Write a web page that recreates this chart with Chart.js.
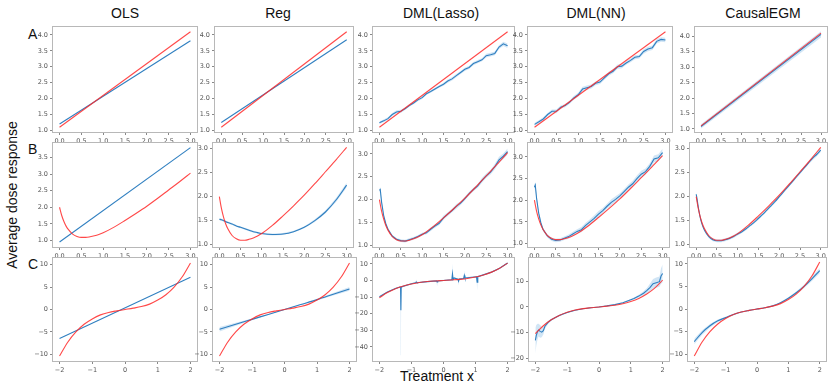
<!DOCTYPE html>
<html><head><meta charset="utf-8">
<script src="https://cdn.jsdelivr.net/npm/chart.js@4.4.1/dist/chart.umd.min.js"></script>
<style>
body{margin:0;background:#fff;width:830px;height:387px;position:relative;overflow:hidden;font-family:"Liberation Sans",Arial,sans-serif}
canvas{position:absolute}
.t{position:absolute;font-size:14px;line-height:1;color:#111;white-space:nowrap}
</style></head><body>
<div class="t" style="left:125px;top:6px;transform:translateX(-50%)">OLS</div>
<div class="t" style="left:278px;top:6px;transform:translateX(-50%)">Reg</div>
<div class="t" style="left:441px;top:6px;transform:translateX(-50%)">DML(Lasso)</div>
<div class="t" style="left:596px;top:6px;transform:translateX(-50%)">DML(NN)</div>
<div class="t" style="left:763px;top:6px;transform:translateX(-50%)">CausalEGM</div>
<div class="t" style="left:28px;top:27px">A</div>
<div class="t" style="left:28px;top:142px">B</div>
<div class="t" style="left:28px;top:257px">C</div>
<div class="t" style="left:437px;top:369px;transform:translateX(-50%)">Treatment x</div>
<div class="t" style="left:12px;top:195px;transform:translate(-50%,-50%) rotate(-90deg)">Average dose response</div>
<script>
// ---- row A: linear truth ----
const xLin = [0, 3];
const redA = [1.1, 4.1];
const olsA = [1.2, 3.82];
const regA = [1.25, 3.85];
const egmA = [1.08, 4.06];
const egmAsd = [0.07, 0.1];
const xStep = [0,0.1,0.2,0.3,0.4,0.5,0.6,0.7,0.8,0.9,1.0,1.1,1.2,1.3,1.4,1.5,1.6,1.7,1.8,1.9,2.0,2.1,2.2,2.3,2.4,2.5,2.6,2.7,2.8,2.9,3.0];
const lassoA = [1.24,1.3,1.37,1.5,1.58,1.6,1.68,1.78,1.86,1.96,2.03,2.15,2.22,2.3,2.38,2.45,2.55,2.62,2.72,2.82,2.92,2.98,3.1,3.16,3.22,3.35,3.38,3.42,3.62,3.72,3.66];
const lassoAsd = [0.04,0.04,0.04,0.05,0.05,0.05,0.04,0.04,0.04,0.04,0.04,0.04,0.04,0.04,0.04,0.05,0.05,0.05,0.05,0.05,0.05,0.05,0.05,0.05,0.05,0.06,0.06,0.06,0.06,0.07,0.07];
const nnA = [1.19,1.27,1.36,1.5,1.6,1.6,1.73,1.78,1.88,2.02,2.12,2.3,2.34,2.38,2.48,2.52,2.65,2.78,2.86,3.0,3.02,3.12,3.2,3.3,3.32,3.48,3.56,3.6,3.8,3.86,3.84];
const nnAsd = [0.05,0.05,0.05,0.05,0.06,0.06,0.05,0.05,0.05,0.06,0.06,0.07,0.07,0.06,0.06,0.06,0.06,0.06,0.06,0.07,0.07,0.06,0.06,0.06,0.06,0.07,0.07,0.07,0.07,0.07,0.07];

// ---- row B: U-shaped truth ----
const xB = [0,0.05,0.1,0.15,0.2,0.3,0.4,0.5,0.6,0.7,0.8,0.9,1.0,1.25,1.5,1.75,2.0,2.25,2.5,2.75,3.0];
const redB = [2.0,1.75,1.57,1.43,1.33,1.19,1.12,1.09,1.09,1.11,1.14,1.18,1.23,1.4,1.6,1.81,2.03,2.27,2.52,2.77,3.03];
const olsB = [0.95, 3.8];
const regB = [1.53,1.52,1.5,1.48,1.46,1.43,1.39,1.36,1.33,1.3,1.27,1.25,1.23,1.21,1.22,1.27,1.36,1.5,1.68,1.93,2.24];
const regBsd = [0.02,0.02,0.02,0.02,0.02,0.02,0.02,0.02,0.02,0.02,0.02,0.02,0.02,0.02,0.02,0.02,0.02,0.03,0.03,0.04,0.05];
const xB2 = [0,0.02,0.05,0.1,0.15,0.2,0.3,0.4,0.5,0.6,0.7,0.8,0.9,1.0,1.1,1.2,1.3,1.4,1.5,1.6,1.7,1.8,1.9,2.0,2.1,2.2,2.3,2.4,2.5,2.6,2.7,2.8,2.9,3.0];
const lassoB = [2.2,2.22,1.95,1.65,1.47,1.35,1.2,1.13,1.1,1.09,1.12,1.15,1.19,1.24,1.27,1.35,1.42,1.48,1.6,1.68,1.76,1.85,1.92,2.02,2.13,2.22,2.3,2.42,2.52,2.6,2.72,2.87,2.95,3.05];
const lassoBsd = [0.05,0.05,0.04,0.03,0.03,0.03,0.03,0.03,0.03,0.03,0.03,0.03,0.03,0.03,0.03,0.04,0.04,0.04,0.05,0.04,0.04,0.05,0.04,0.04,0.04,0.04,0.04,0.05,0.05,0.05,0.06,0.07,0.06,0.07];
const nnB = [2.3,2.35,2.05,1.7,1.48,1.33,1.18,1.1,1.07,1.08,1.12,1.16,1.22,1.28,1.32,1.42,1.5,1.58,1.68,1.76,1.86,1.95,2.02,2.1,2.2,2.3,2.38,2.5,2.6,2.66,2.78,2.95,2.98,3.1];
const nnBsd = [0.07,0.07,0.06,0.05,0.05,0.04,0.04,0.04,0.04,0.04,0.04,0.05,0.05,0.05,0.06,0.06,0.06,0.07,0.07,0.06,0.06,0.07,0.07,0.06,0.06,0.06,0.07,0.07,0.08,0.07,0.07,0.08,0.08,0.09];
const egmB = [2.05,1.95,1.78,1.55,1.4,1.3,1.17,1.1,1.08,1.08,1.1,1.13,1.17,1.22,1.27,1.33,1.4,1.47,1.55,1.63,1.72,1.81,1.9,2.0,2.1,2.2,2.3,2.4,2.5,2.6,2.7,2.8,2.88,2.97];
const egmBsd = [0.04,0.04,0.03,0.03,0.03,0.03,0.03,0.03,0.03,0.03,0.03,0.03,0.03,0.03,0.03,0.03,0.03,0.03,0.03,0.03,0.03,0.03,0.03,0.03,0.03,0.03,0.03,0.03,0.03,0.03,0.03,0.04,0.04,0.04];

// ---- row C: cubic truth ----
const xC = [-2,-1.75,-1.5,-1.25,-1,-0.75,-0.5,-0.25,0,0.25,0.5,0.75,1,1.25,1.5,1.75,2];
const redC = [-10.4,-7.3,-5.0,-3.3,-2.1,-1.2,-0.65,-0.3,0,0.3,0.65,1.2,2.1,3.3,5.0,7.3,10.4];
const xCl = [-2, 2];
const olsC = [-6.5, 7.2];
const xC2 = [-2,-1.5,-1,-0.5,0,0.5,1,1.5,2];
const regC = [-4.4,-3.3,-2.2,-1.1,0,1.1,2.2,3.4,4.6];
const regCsd = [0.5,0.35,0.2,0.1,0.05,0.1,0.2,0.3,0.4];
const egmC = [-7.2,-5.2,-3.7,-2.6,-1.9,-1.2,-0.65,-0.3,0,0.3,0.7,1.4,2.4,3.6,5.0,6.7,8.5];
const egmCsd = [0.6,0.5,0.4,0.3,0.2,0.15,0.1,0.1,0.1,0.1,0.1,0.15,0.2,0.3,0.4,0.5,0.6];
const xNnC = [-2,-1.97,-1.93,-1.9,-1.85,-1.8,-1.75,-1.7,-1.6,-1.5,-1.25,-1,-0.75,-0.5,-0.25,0,0.25,0.5,0.75,1,1.1,1.25,1.4,1.5,1.6,1.7,1.8,1.9,1.95,2];
const nnC = [-13,-11,-9.5,-9,-9.5,-9.8,-9.2,-7.5,-6,-5,-3.3,-2.2,-1.3,-0.7,-0.3,0,0.4,0.9,1.6,2.8,3.3,4.2,5.3,6.3,7.5,9,9.4,9.8,12,13];
const nnCsd = [5,4,3,2.5,2.5,2,1.5,1,0.6,0.4,0.3,0.2,0.15,0.1,0.1,0.1,0.1,0.15,0.2,0.3,0.4,0.5,0.8,1,1.5,1.8,2,2,3,3.5];
const xLaC = [-2,-1.75,-1.5,-1.36,-1.34,-1.33,-1.32,-1.3,-1,-0.87,-0.85,-0.83,-0.5,-0.22,-0.2,-0.18,0,0.26,0.28,0.3,0.33,0.45,0.47,0.49,0.63,0.65,0.67,1.03,1.05,1.07,1.5,1.75,2];
const lassoC = [-9.8,-7,-4.8,-4,-4,-18,-4,-3.8,-2.0,-1.4,-1.0,-1.4,-0.7,-0.3,-0.9,-0.3,0,0.4,4,0.5,1.5,0.7,-0.5,0.8,1.2,3,1.5,2.2,-1,2.3,5.0,7.3,10.5];
const lassoClo = [-10.3,-7.4,-5.2,-4.4,-4.4,-45,-4.4,-4.2,-2.4,-1.8,-1.6,-1.8,-1.1,-0.7,-3.5,-0.7,-0.4,0,0,0.1,1.1,0.3,-3,0.4,0.8,1,1.1,1.8,-6,1.9,4.6,6.9,10.1];
const lassoChi = [-9.3,-6.6,-4.4,-3.6,-3.6,-4,-3.6,-3.4,-1.6,-1,0.5,-1,-0.3,0.1,-0.2,0.1,0.4,0.8,10,0.9,1.9,1.1,0.9,1.2,1.6,6,1.9,2.6,2.5,2.7,5.4,7.7,10.9];

// ---- ticks ----
const tick05 = [0,0.5,1.0,1.5,2.0,2.5,3.0];
const tickA = [1.0,1.5,2.0,2.5,3.0,3.5,4.0];
const tickB1 = [1.0,1.5,2.0,2.5,3.0,3.5];
const tickB = [1.0,1.5,2.0,2.5,3.0];
const tickCx = [-2,-1,0,1,2];
const tickC5 = [-10,-5,0,5,10];
const tickCla = [-40,-30,-20,-10,0,10];
const tickCnn = [-20,-10,0,10];

const RED = 'rgba(255,40,40,0.85)';
const BLUE = '#2f7fc0';
const BAND = 'rgba(90,160,220,0.28)';

const pts = (xs, ys) => xs.map((x, i) => ({x: x, y: ys[i]}));
const line = (xs, ys, c, smooth) => ({data: pts(xs, ys), borderColor: c, borderWidth: 1.1, pointRadius: 0,
  tension: 0, cubicInterpolationMode: smooth ? 'monotone' : 'default', fill: false});
const bandLH = (xs, lo, hi) => [
  {data: pts(xs, hi), borderWidth: 0, pointRadius: 0, backgroundColor: BAND, fill: '+1'},
  {data: pts(xs, lo), borderWidth: 0, pointRadius: 0, fill: false}];
const band = (xs, ys, sd) => bandLH(xs, ys.map((v, i) => v - sd[i]), ys.map((v, i) => v + sd[i]));

const frame = {id: 'frame', beforeDatasetsDraw(ch) {
  const a = ch.chartArea, c = ch.ctx;
  c.save(); c.strokeStyle = '#b8b8b8'; c.lineWidth = 1;
  c.strokeRect(Math.round(a.left) - 0.5, Math.round(a.top) - 0.5, Math.round(a.right - a.left) + 1, Math.round(a.bottom - a.top) + 1);
  c.restore();
}};

const fmt1 = v => v.toFixed(1);
const fmtI = v => String(v).replace('-', '\u2212');

const rA = {T: 27, B: 132, x: [-0.15, 3.15], xt: tick05, xf: fmt1, yf: fmt1};
const rB = {T: 143, B: 247, x: [-0.15, 3.15], xt: tick05, xf: fmt1, yf: fmt1};
const rC = {T: 258, B: 361, x: [-2.2, 2.2], xt: tickCx, xf: fmtI, yf: fmtI};

const panels = [
  {r: rA, L: 53, R: 197, y: [0.95, 4.25], yt: tickA, ds: [line(xLin, redA, RED), line(xLin, olsA, BLUE)]},
  {r: rA, L: 215, R: 353, y: [0.95, 4.25], yt: tickA, ds: [line(xLin, redA, RED), line(xLin, regA, BLUE)]},
  {r: rA, L: 373, R: 514, y: [0.95, 4.25], yt: tickA, ds: [line(xLin, redA, RED), line(xStep, lassoA, BLUE), ...band(xStep, lassoA, lassoAsd)]},
  {r: rA, L: 528, R: 672, y: [0.95, 4.25], yt: tickA, ds: [line(xLin, redA, RED), line(xStep, nnA, BLUE), ...band(xStep, nnA, nnAsd)]},
  {r: rA, L: 695, R: 827, y: [0.9, 4.3], yt: tickA, ds: [line(xLin, redA, RED), line(xLin, egmA, BLUE), ...band(xLin, egmA, egmAsd)]},

  {r: rB, L: 53, R: 197, y: [0.8, 3.94], yt: tickB1, ds: [line(xB, redB, RED, true), line(xLin, olsB, BLUE)]},
  {r: rB, L: 213, R: 353, y: [0.95, 3.12], yt: tickB, ds: [line(xB, redB, RED, true), line(xB, regB, BLUE, true), ...band(xB, regB, regBsd)]},
  {r: rB, L: 373, R: 514, y: [0.96, 3.24], yt: tickB, ds: [line(xB, redB, RED, true), line(xB2, lassoB, BLUE), ...band(xB2, lassoB, lassoBsd)]},
  {r: rB, L: 528, R: 669, y: [0.92, 3.32], yt: tickB, ds: [line(xB, redB, RED, true), line(xB2, nnB, BLUE), ...band(xB2, nnB, nnBsd)]},
  {r: rB, L: 690, R: 827, y: [0.95, 3.12], yt: tickB, ds: [line(xB, redB, RED, true), line(xB2, egmB, BLUE, true), ...band(xB2, egmB, egmBsd)]},

  {r: rC, L: 53, R: 197, y: [-11.5, 11.5], yt: tickC5, ds: [line(xC, redC, RED, true), line(xCl, olsC, BLUE)]},
  {r: rC, L: 213, R: 356, y: [-11.5, 11.5], yt: tickC5, ds: [line(xC, redC, RED, true), line(xC2, regC, BLUE, true), ...band(xC2, regC, regCsd)]},
  {r: rC, L: 373, R: 514, y: [-48.5, 13.5], yt: tickCla, ds: [line(xC, redC, RED, true), line(xLaC, lassoC, BLUE), ...bandLH(xLaC, lassoClo, lassoChi)]},
  {r: rC, L: 529, R: 669, y: [-21, 19], yt: tickCnn, ds: [line(xC, redC, RED, true), line(xNnC, nnC, BLUE), ...band(xNnC, nnC, nnCsd)]},
  {r: rC, L: 688, R: 826, y: [-11.5, 11.3], yt: tickC5, ds: [line(xC, redC, RED, true), line(xC, egmC, BLUE, true), ...band(xC, egmC, egmCsd)]}
];

const YW = 30, PT = 6, PR = 8, XH = 16;
const tickFont = {family: 'DejaVu Sans', size: 6.5};
const grid = {drawOnChartArea: false, drawTicks: true, tickLength: 3, color: '#888'};

panels.forEach(p => {
  const c = document.createElement('canvas');
  const W = p.R - p.L + YW + PR, H = p.r.B - p.r.T + PT + XH;
  c.width = W; c.height = H;
  c.style.left = (p.L - YW) + 'px'; c.style.top = (p.r.T - PT) + 'px';
  c.style.width = W + 'px'; c.style.height = H + 'px';
  document.body.appendChild(c);
  new Chart(c, {
    type: 'line',
    data: {datasets: p.ds},
    options: {
      responsive: false, animation: false, devicePixelRatio: 1,
      layout: {padding: {top: PT, right: PR, left: 0, bottom: 0}},
      plugins: {legend: {display: false}, tooltip: {enabled: false}},
      scales: {
        x: {type: 'linear', min: p.r.x[0], max: p.r.x[1], grid: grid, border: {display: false},
          afterBuildTicks: a => { a.ticks = p.r.xt.map(v => ({value: v})); },
          afterFit: a => { a.height = XH; },
          ticks: {font: tickFont, color: '#555', padding: 2, maxRotation: 0, autoSkip: false, callback: p.r.xf}},
        y: {type: 'linear', min: p.y[0], max: p.y[1], grid: grid, border: {display: false},
          afterBuildTicks: a => { a.ticks = p.yt.map(v => ({value: v})); },
          afterFit: a => { a.width = YW; },
          ticks: {font: tickFont, color: '#555', padding: 2, autoSkip: false, callback: p.r.yf}}
      }
    },
    plugins: [frame]
  });
});
</script>
</body></html>
